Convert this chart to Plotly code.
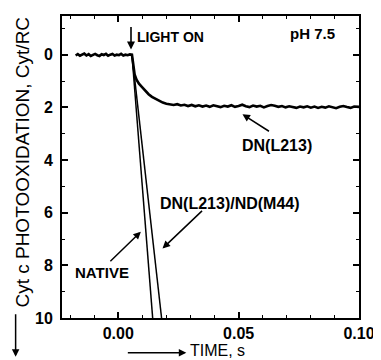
import plotly.graph_objects as go

# ---- data ----
base_t = [-0.0177, -0.0168, -0.0159, -0.0150, -0.0141, -0.0132, -0.0123, -0.0114, -0.0105,
          -0.0096, -0.0087, -0.0078, -0.0069, -0.0060, -0.0051, -0.0042, -0.0033, -0.0024,
          -0.0015, -0.0006, 0.0003, 0.0012, 0.0021, 0.0030, 0.0039, 0.0048, 0.0057]
base_y = [0.03, -0.02, 0.04, 0.00, -0.04, 0.03, -0.02, 0.05, 0.00, -0.03, 0.02, 0.05,
          -0.02, 0.01, -0.03, 0.04, 0.00, -0.03, 0.03, 0.00, 0.02, -0.03, 0.03, 0.00,
          0.02, -0.01, 0.00]

dn_t = [0.0057, 0.0062, 0.0068, 0.0076, 0.0086, 0.0098, 0.0112, 0.0126, 0.0140, 0.0155,
        0.0170, 0.0185, 0.0200, 0.0215, 0.0230, 0.0245, 0.0260, 0.0275, 0.0290, 0.0305,
        0.0320, 0.0335, 0.0350, 0.0365, 0.0380, 0.0395, 0.0410, 0.0425, 0.0440, 0.0455,
        0.0470, 0.0485, 0.0500, 0.0515, 0.0530, 0.0545, 0.0560, 0.0575, 0.0590, 0.0605,
        0.0620, 0.0635, 0.0650, 0.0665, 0.0680, 0.0695, 0.0710, 0.0725, 0.0740, 0.0755,
        0.0770, 0.0785, 0.0800, 0.0815, 0.0830, 0.0845, 0.0860, 0.0875, 0.0890, 0.0905,
        0.0920, 0.0935, 0.0950, 0.0965, 0.0980, 0.1000]
dn_y = [0.00, 0.35, 0.75, 0.95, 1.10, 1.22, 1.38, 1.50, 1.60, 1.68,
        1.76, 1.82, 1.86, 1.89, 1.91, 1.88, 1.93, 1.90, 1.95, 1.91,
        1.96, 1.92, 1.97, 1.93, 1.98, 1.92, 1.95, 1.99, 1.94, 1.97,
        1.92, 1.98, 1.95, 1.90, 1.96, 1.99, 1.93, 1.97, 1.94, 2.00,
        1.95, 1.91, 1.94, 1.98, 1.95, 2.00, 1.96, 1.99, 2.02, 1.97,
        2.00, 1.96, 2.01, 1.97, 2.02, 1.98, 2.01, 1.96, 2.00, 2.03,
        1.98, 1.95, 1.99, 2.02, 1.97, 1.98]

native_t = [0.0057, 0.0143]
native_y = [0.0, 10.0]

dnnd_t = [0.0057, 0.0180]
dnnd_y = [0.0, 10.0]

x_ticks = [0.00, 0.05, 0.10]
x_ticklabels = ["0.00", "0.05", "0.10"]
y_ticks = [0, 2, 4, 6, 8, 10]
y_ticklabels = ["0", "2", "4", "6", "8", "10"]

FONT = "Liberation Sans, Arial, Helvetica, sans-serif"

fig = go.Figure()
fig.add_trace(go.Scatter(x=base_t + dn_t, y=base_y + dn_y, mode="lines",
                         line=dict(color="black", width=2.6), hoverinfo="skip"))
fig.add_trace(go.Scatter(x=native_t, y=native_y, mode="lines",
                         line=dict(color="black", width=1.5), hoverinfo="skip"))
fig.add_trace(go.Scatter(x=dnnd_t, y=dnnd_y, mode="lines",
                         line=dict(color="black", width=1.5), hoverinfo="skip"))

# the page body has an 8px margin, so the figure is 8px smaller and everything shifted
OFF = 8
W, H = 381 - OFF, 360 - OFF
L, T = 62 - OFF, 14 - OFF
R = W - (363 - OFF)
B = H - (318 - OFF)
pw, ph = W - L - R, H - T - B


def px(xp):  # reference page pixel -> paper x
    return (xp - OFF - L) / pw


def py(yp):  # reference page pixel -> paper y
    return (H - B - (yp - OFF)) / ph


lab = dict(family=FONT, size=16, color="black")
ann = [
    # light-on arrow
    dict(x=0.0053, y=-0.2, xref="x", yref="y", text="", showarrow=True,
         ax=0, ay=-24, arrowhead=2, arrowsize=1, arrowwidth=1.6, arrowcolor="black"),
    dict(x=0.0217, y=-0.68, xref="x", yref="y", text="<b>LIGHT ON</b>", showarrow=False,
         font=dict(family=FONT, size=14, color="black")),
    dict(x=0.0807, y=-0.79, xref="x", yref="y", text="<b>pH 7.5</b>", showarrow=False,
         font=dict(family=FONT, size=15, color="black")),
    dict(x=0.066, y=3.43, xref="x", yref="y", text="<b>DN(L213)</b>", showarrow=False, font=lab),
    dict(x=0.0516, y=2.26, xref="x", yref="y", text="", showarrow=True,
         ax=28, ay=18, arrowhead=2, arrowsize=1, arrowwidth=1.5, arrowcolor="black"),
    dict(x=0.0463, y=5.66, xref="x", yref="y", text="<b>DN(L213)/ND(M44)</b>", showarrow=False, font=lab),
    dict(x=0.0184, y=7.36, xref="x", yref="y", text="", showarrow=True,
         ax=41, ay=-39, arrowhead=2, arrowsize=1, arrowwidth=1.5, arrowcolor="black"),
    dict(x=-0.0066, y=8.26, xref="x", yref="y", text="<b>NATIVE</b>", showarrow=False,
         font=dict(family=FONT, size=15, color="black")),
    dict(x=0.0094, y=6.72, xref="x", yref="y", text="", showarrow=True,
         ax=-32, ay=31, arrowhead=2, arrowsize=1, arrowwidth=1.5, arrowcolor="black"),
    # axis titles
    dict(x=px(21), y=py(161), xref="paper", yref="paper", text="Cyt c PHOTOOXIDATION, Cyt/RC",
         textangle=-90, xanchor="center", yanchor="middle", showarrow=False,
         font=dict(family=FONT, size=19, color="black")),
    dict(x=px(15), y=py(357), xref="paper", yref="paper", text="", showarrow=True,
         ax=0, ay=-44, arrowhead=2, arrowsize=1, arrowwidth=1.5, arrowcolor="black"),
    dict(x=px(191), y=py(351), xref="paper", yref="paper", text="TIME, s", xanchor="left",
         yanchor="middle", borderpad=0, showarrow=False,
         font=dict(family=FONT, size=16, color="black")),
    dict(x=px(188), y=py(353), xref="paper", yref="paper", text="", showarrow=True,
         ax=-60, ay=0, arrowhead=2, arrowsize=1, arrowwidth=1.5, arrowcolor="black"),
]

axis_common = dict(showline=True, linecolor="black", linewidth=2, mirror="ticks",
                   ticks="inside", ticklen=6, tickwidth=1.5, tickcolor="black",
                   showgrid=False, zeroline=False,
                   tickfont=dict(family=FONT, size=16, color="black"))

fig.update_layout(
    width=W, height=H,
    margin=dict(l=L, r=R, t=T, b=B, pad=0),
    paper_bgcolor="white", plot_bgcolor="white",
    showlegend=False,
    annotations=ann,
    xaxis=dict(range=[-0.02336, 0.1], tickvals=x_ticks,
               ticktext=["<b>%s</b>" % s for s in x_ticklabels],
               minor=dict(ticks="inside", ticklen=3, tickwidth=1.2, tickcolor="black",
                          dtick=0.01, tick0=0),
               ticklabelstandoff=0, **axis_common),
    yaxis=dict(range=[10, -1.47], tickvals=y_ticks,
               ticktext=["<b>%s</b>" % s for s in y_ticklabels],
               minor=dict(ticks="inside", ticklen=3, tickwidth=1.2, tickcolor="black",
                          dtick=1, tick0=0),
               ticklabelstandoff=4, **axis_common),
)

fig.write_html("out.html")
